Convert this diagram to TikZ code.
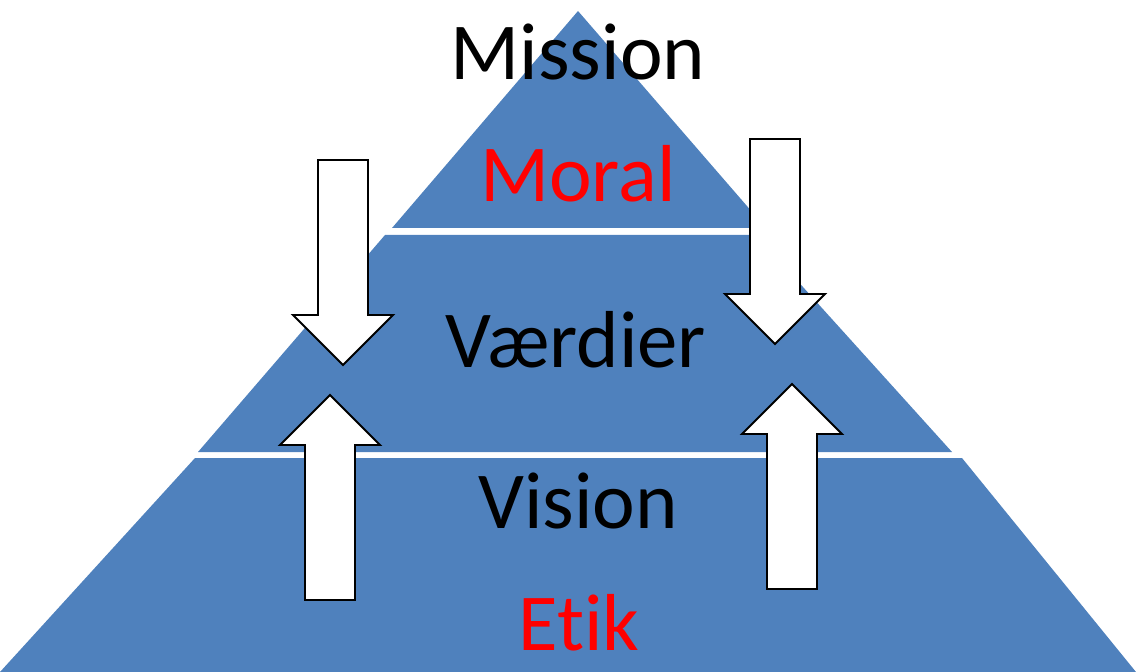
\documentclass[tikz,border=0pt]{standalone}
\usepackage{fontspec}
\setmainfont{Carlito}[Ligatures=NoCommon]
\usepackage{tikz}
\definecolor{pyrblue}{RGB}{79,129,189}
\begin{document}
\begin{tikzpicture}
  [x=0.02cm,y=-0.02cm,
    every node/.style={draw=none,fill=none,inner sep=0pt,font=\fontsize{46}{50}\selectfont},
    layer/.style={fill=pyrblue,draw=none},
    word/.style={anchor=base,text=black},
    redword/.style={anchor=base,text=red},
    blockarrow/.style={draw=black,fill=white,line width=1.1pt,line join=miter}]
  \useasboundingbox (0,0) rectangle (1136,672);
  % pyramid layers
  \path[layer] (578,11) -- (392,228) -- (766,228) -- cycle;
  \path[layer] (385,235) -- (756,235) -- (952,452) -- (198,452) -- cycle;
  \path[layer] (195,458) -- (962,458) -- (1136,672) -- (0,672) -- cycle;
  % block arrows
  \foreach \cx/\ty/\d in {343/160/1,330/600/-1,775/139/1,792/589/-1}
    \draw[blockarrow] ({\cx-25},\ty) -- ({\cx+25},\ty) -- ({\cx+25},{\ty+\d*155})
      -- ({\cx+50},{\ty+\d*155}) -- (\cx,{\ty+\d*205}) -- ({\cx-50},{\ty+\d*155})
      -- ({\cx-25},{\ty+\d*155}) -- cycle;
  % texts
  \node[word] (n0) at (578,80) {Mission};
  \node[redword] (n1) at (578,202) {Moral};
  \node[word] (n2) at (576,367) {Værdier};
  \node[word] (n3) at (578,528) {Vision};
  \node[redword] (n4) at (579,650) {Etik};
\end{tikzpicture}
\end{document}
